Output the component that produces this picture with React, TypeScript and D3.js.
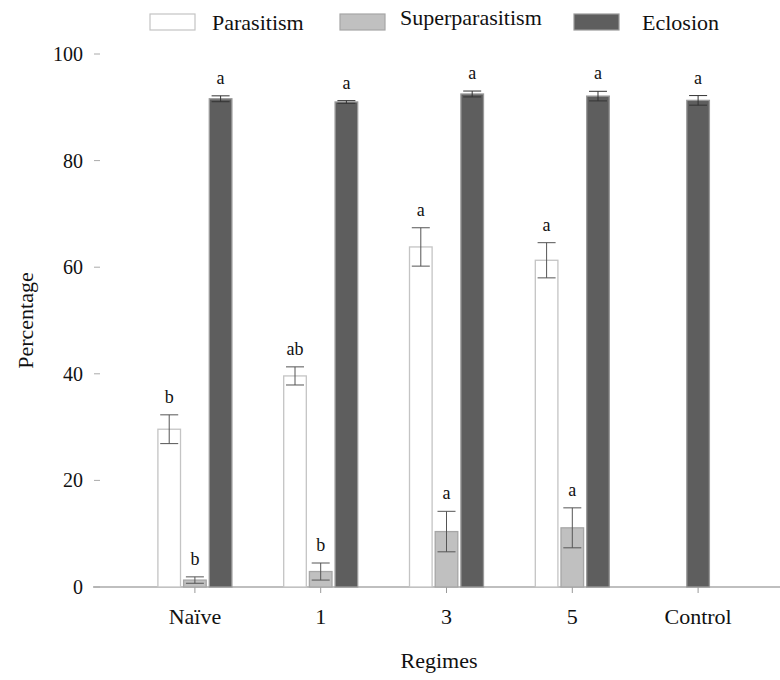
import React, { useEffect, useRef } from "react";
import * as d3 from "d3";

const regimes = ["Naïve", "1", "3", "5", "Control"];
const seriesNames = ["Parasitism", "Superparasitism", "Eclosion"];

const parasitism = [29.6, 39.6, 63.8, 61.3, null];
const parasitismErr = [2.7, 1.7, 3.6, 3.3, null];
const parasitismLetters = ["b", "ab", "a", "a", ""];

const superparasitism = [1.3, 2.9, 10.4, 11.1, null];
const superparasitismErr = [0.6, 1.6, 3.8, 3.75, null];
const superparasitismLetters = ["b", "b", "a", "a", ""];

const eclosion = [91.6, 91.0, 92.5, 92.1, 91.3];
const eclosionErr = [0.55, 0.25, 0.55, 0.9, 0.9];
const eclosionLetters = ["a", "a", "a", "a", "a"];

const yTicks = [0, 20, 40, 60, 80, 100];

const App: React.FC = () => {
  const svgRef = useRef<SVGSVGElement | null>(null);

  useEffect(() => {
    d3.select(svgRef.current).selectAll("*").remove();

    const w = 780;
    const h = 680;
    const font = "Liberation Serif, Times New Roman, serif";

    const svg = d3
      .select(svgRef.current)
      .attr("width", w)
      .attr("height", h)
      .attr("font-family", font)
      .attr("fill", "#111")
      .style("background-color", "#ffffff");

    const yScale = d3.scaleLinear().domain([0, 100]).range([587, 54]);

    const xScale = d3.scaleBand().domain(regimes).range([132, 761]).padding(0);

    const sub = d3
      .scaleBand()
      .domain(seriesNames)
      .range([-37, 37])
      .paddingInner(0.12)
      .paddingOuter(0);

    const fills = ["#ffffff", "#c0c0c0", "#5e5e5e"];
    const strokes = ["#c4c4c4", "#a6a6a6", "#9a9a9a"];
    const values = [parasitism, superparasitism, eclosion];
    const errs = [parasitismErr, superparasitismErr, eclosionErr];
    const letters = [parasitismLetters, superparasitismLetters, eclosionLetters];

    // x axis line and ticks
    svg
      .append("line")
      .attr("x1", 93)
      .attr("x2", w)
      .attr("y1", yScale(0))
      .attr("y2", yScale(0))
      .attr("stroke", "#808080")
      .attr("stroke-width", 1.2);

    regimes.forEach((r) => {
      const cx = xScale(r)! + xScale.bandwidth() / 2;
      svg
        .append("line")
        .attr("x1", cx)
        .attr("x2", cx)
        .attr("y1", yScale(0))
        .attr("y2", yScale(0) + 6)
        .attr("stroke", "#999");
      svg
        .append("text")
        .attr("x", cx)
        .attr("y", 624)
        .attr("text-anchor", "middle")
        .attr("font-family", font)
        .attr("font-size", 22)
        .text(r);
    });

    // y ticks
    yTicks.forEach((t) => {
      svg
        .append("line")
        .attr("x1", 94)
        .attr("x2", 100)
        .attr("y1", yScale(t))
        .attr("y2", yScale(t))
        .attr("stroke", "#aaa");
      svg
        .append("text")
        .attr("x", 83)
        .attr("y", yScale(t))
        .attr("dy", "0.35em")
        .attr("text-anchor", "end")
        .attr("font-family", font)
        .attr("font-size", 20)
        .text(t);
    });

    svg
      .append("text")
      .attr("transform", `translate(33, ${(yScale(0) + yScale(100)) / 2}) rotate(-90)`)
      .attr("text-anchor", "middle")
      .attr("font-family", font)
      .attr("font-size", 22)
      .text("Percentage");

    svg
      .append("text")
      .attr("x", 439)
      .attr("y", 668)
      .attr("text-anchor", "middle")
      .attr("font-family", font)
      .attr("font-size", 22)
      .text("Regimes");

    // bars
    regimes.forEach((r, i) => {
      const cx = xScale(r)! + xScale.bandwidth() / 2;
      const present = seriesNames.filter((_, s) => values[s][i] != null);
      seriesNames.forEach((name, s) => {
        const v = values[s][i];
        if (v == null) return;
        const bw = sub.bandwidth();
        const x0 = present.length === 1 ? cx - bw / 2 : cx + sub(name)!;
        svg
          .append("rect")
          .attr("x", x0)
          .attr("y", yScale(v))
          .attr("width", bw)
          .attr("height", yScale(0) - yScale(v))
          .attr("fill", fills[s])
          .attr("stroke", strokes[s])
          .attr("stroke-width", 1.3);

        const e = errs[s][i] ?? 0;
        const bx = x0 + bw / 2;
        const capW = 9;
        const g = svg.append("g").attr("stroke", s === 2 ? "#333" : "#555").attr("stroke-width", 1);
        g.append("line").attr("x1", bx).attr("x2", bx).attr("y1", yScale(v - e)).attr("y2", yScale(v + e));
        g.append("line").attr("x1", bx - capW).attr("x2", bx + capW).attr("y1", yScale(v - e)).attr("y2", yScale(v - e));
        g.append("line").attr("x1", bx - capW).attr("x2", bx + capW).attr("y1", yScale(v + e)).attr("y2", yScale(v + e));

        const letter = letters[s][i];
        if (letter) {
          svg
            .append("text")
            .attr("x", bx)
            .attr("y", yScale(v + e) - 12)
            .attr("text-anchor", "middle")
            .attr("font-family", font)
            .attr("font-size", 18)
            .text(letter);
        }
      });
    });

    // legend
    const legendX = [150, 340, 574];
    const legendTextX = [212, 400, 642];
    const legendTextY = [30, 25, 30];
    seriesNames.forEach((name, s) => {
      svg
        .append("rect")
        .attr("x", legendX[s])
        .attr("y", 14)
        .attr("width", 45)
        .attr("height", 16)
        .attr("fill", fills[s])
        .attr("stroke", strokes[s])
        .attr("stroke-width", 1.2);
      svg
        .append("text")
        .attr("x", legendTextX[s])
        .attr("y", legendTextY[s])
        .attr("font-family", font)
        .attr("font-size", 22)
        .text(name);
    });
  }, []);

  return (
    <div style={{ position: "absolute", left: 0, top: 0 }}>
      <svg ref={svgRef}></svg>
    </div>
  );
};

export default App;
